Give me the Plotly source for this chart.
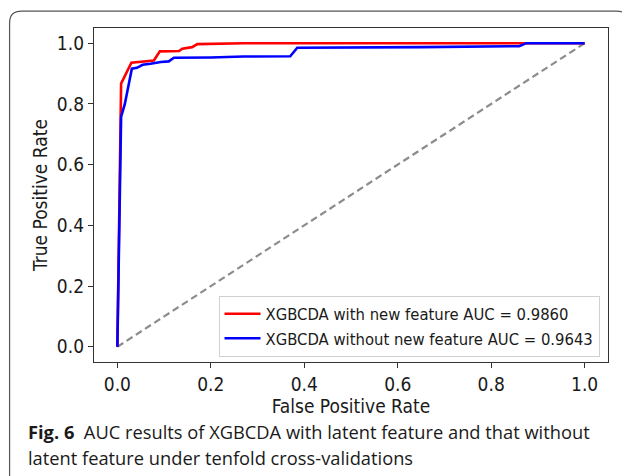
import plotly.graph_objects as go

# ROC curve data
fpr_with = [0.0, 0.008, 0.030, 0.078, 0.091, 0.132, 0.139, 0.160, 0.171, 0.26, 0.27, 1.0]
tpr_with = [0.0, 0.867, 0.936, 0.943, 0.973, 0.974, 0.982, 0.987, 0.997, 0.998, 1.0, 1.0]

fpr_without = [0.0, 0.008, 0.016, 0.031, 0.042, 0.054, 0.071, 0.093, 0.110, 0.121, 0.20, 0.27, 0.37, 0.385, 0.65, 0.86, 0.875, 1.0]
tpr_without = [0.0, 0.757, 0.800, 0.916, 0.919, 0.929, 0.932, 0.938, 0.940, 0.952, 0.953, 0.956, 0.957, 0.985, 0.987, 0.990, 1.0, 1.0]

diag = [0.0, 1.0]

label_with = "XGBCDA with new feature AUC = 0.9860"
label_without = "XGBCDA without new feature AUC = 0.9643"
x_title = "False Positive Rate"
y_title = "True Positive Rate"
tick_vals = [0.0, 0.2, 0.4, 0.6, 0.8, 1.0]
tick_text = ["0.0", "0.2", "0.4", "0.6", "0.8", "1.0"]
caption_1 = "<b>Fig. 6</b>  AUC results of XGBCDA with latent feature and that without"
caption_2 = "latent feature under tenfold cross-validations"

# the page body adds an 8px margin; work in window pixels and shift
OFF = 8
W, H = 630 - OFF, 476 - OFF
L, R, T, B = 94 - OFF, 608.5 - OFF, 27.5 - OFF, 362.5 - OFF

FONT = "DejaVu Sans Condensed, DejaVu Sans"


def px2paper_x(px):
    return (px - OFF - L) / (R - L)


def px2paper_y(py):
    return (B - (py - OFF)) / (B - T)


fig = go.Figure()
fig.add_trace(go.Scatter(x=diag, y=diag, mode="lines", showlegend=False,
                         line=dict(color="#8c8c8c", width=2.2, dash="7px,4px")))
fig.add_trace(go.Scatter(x=fpr_with, y=tpr_with, mode="lines", name=label_with,
                         line=dict(color="#ff0000", width=2.6)))
fig.add_trace(go.Scatter(x=fpr_without, y=tpr_without, mode="lines", name=label_without,
                         line=dict(color="#0000ff", width=2.6)))

# rounded panel border
x0, x1, y0, y1, r = 9.5, 629, 10.5, 490, 12
path = (f"M {px2paper_x(x0)},{px2paper_y(y1)} "
        f"L {px2paper_x(x0)},{px2paper_y(y0 + r)} "
        f"Q {px2paper_x(x0)},{px2paper_y(y0)} {px2paper_x(x0 + r)},{px2paper_y(y0)} "
        f"L {px2paper_x(x1 - r)},{px2paper_y(y0)} "
        f"Q {px2paper_x(x1)},{px2paper_y(y0)} {px2paper_x(x1)},{px2paper_y(y0 + r)} "
        f"L {px2paper_x(x1)},{px2paper_y(y1)}")

fig.update_layout(
    width=W, height=H,
    margin=dict(l=L, r=W - R, t=T, b=H - B, pad=0),
    paper_bgcolor="white", plot_bgcolor="white",
    font=dict(family=FONT, size=18, color="#1a1a1a"),
    showlegend=True,
    legend=dict(x=px2paper_x(600), y=px2paper_y(357), xanchor="right", yanchor="bottom",
                bgcolor="rgba(255,255,255,0.9)", bordercolor="#d0d0d0", borderwidth=1,
                font=dict(family=FONT, size=16.5, color="#1a1a1a"),
                itemwidth=36, tracegroupgap=0),
    xaxis=dict(range=[-0.05, 1.05], tickvals=tick_vals, ticktext=tick_text,
               showgrid=False, zeroline=False, showline=True, mirror=True,
               linecolor="#333333", linewidth=1.3, ticks="outside", ticklen=5,
               tickcolor="#333333", tickfont=dict(size=19),
               title=dict(text=x_title, font=dict(size=19), standoff=3)),
    yaxis=dict(range=[-0.05, 1.05], tickvals=tick_vals, ticktext=tick_text,
               showgrid=False, zeroline=False, showline=True, mirror=True,
               linecolor="#333333", linewidth=1.3, ticks="outside", ticklen=5,
               tickcolor="#333333", tickfont=dict(size=19),
               title=dict(text=y_title, font=dict(size=19), standoff=4)),
    shapes=[dict(type="path", xref="paper", yref="paper", path=path,
                 line=dict(color="#555555", width=1.2), layer="below")],
    annotations=[
        dict(text=caption_1, x=px2paper_x(26), y=px2paper_y(432), xref="paper", yref="paper",
             xanchor="left", yanchor="middle", showarrow=False,
             font=dict(family="Open Sans", size=18.3, color="#1a1a1a")),
        dict(text=caption_2, x=px2paper_x(26), y=px2paper_y(458), xref="paper", yref="paper",
             xanchor="left", yanchor="middle", showarrow=False,
             font=dict(family="Open Sans", size=18.3, color="#1a1a1a")),
    ],
)

fig.write_html("out.html")
